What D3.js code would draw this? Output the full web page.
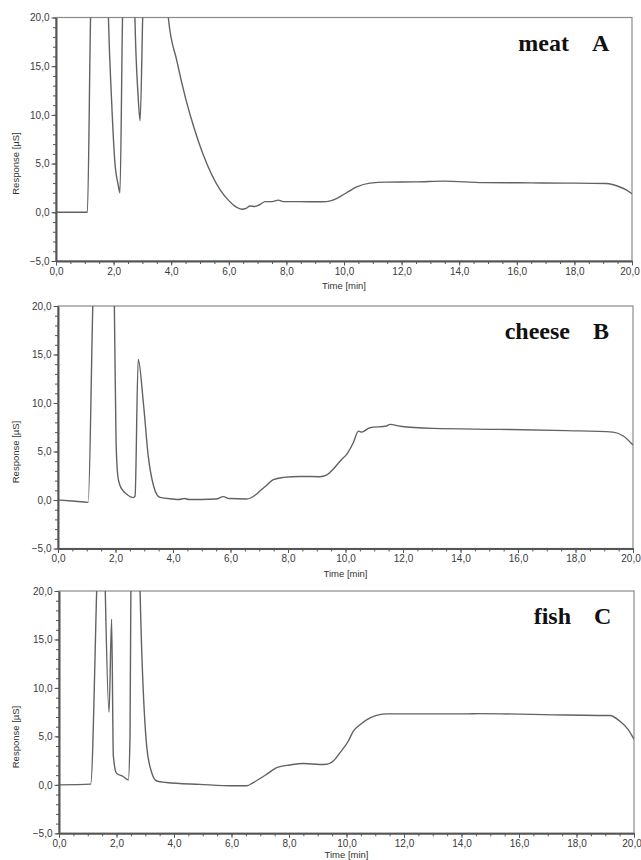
<!DOCTYPE html>
<html lang="en">
<head>
<meta charset="UTF-8">
<title>Chromatograms</title>
<script src="https://d3js.org/d3.v7.min.js"></script>
<style>
html, body { margin: 0; padding: 0; background: #fff; }
svg { display: block; }
.tick text { font-family: 'Liberation Sans', Arial, sans-serif; font-size: 10px; fill: #3a3a3a; }
.axis path, .axis line { stroke: #555; }
.axis-title { font-family: 'Liberation Sans', Arial, sans-serif; font-size: 9.5px; fill: #333; }
.sample { font-family: 'Liberation Serif', 'Times New Roman', serif; font-weight: bold; font-size: 24px; fill: #111; }
.trace { fill: none; stroke: #626262; stroke-width: 1.4; }
</style>
</head>
<body>
<svg id="canvas"></svg>
<script>
// ---- data ----
let sampleNames = ['meat', 'cheese', 'fish']
let sampleLetters = ['A', 'B', 'C']

let meatTime = [0, 1.09, 1.2, 1.3, 1.75, 1.82, 1.93, 2.04, 2.16, 2.22, 2.31, 2.4, 2.68, 2.74, 2.85, 2.92, 3.01, 3.1, 3.85, 3.9, 4.2, 4.5, 4.8, 5.1, 5.4, 5.7, 6.0, 6.25, 6.45, 6.6, 6.74, 6.9, 7.08, 7.26, 7.5, 7.72, 7.89, 8.5, 9.0, 9.4, 9.74, 9.97, 10.2, 10.44, 10.9, 11.48, 12.5, 13.45, 14.83, 16.5, 17.73, 19.1, 19.58, 19.8, 20]
let meatResp = [0, 0, 20, 30, 30, 20, 11.5, 5.3, 2.8, 2.0, 20, 30, 30, 20, 12, 9.4, 20, 30, 30, 20, 15.5, 11.7, 8.6, 6.0, 3.9, 2.3, 1.2, 0.55, 0.31, 0.4, 0.65, 0.6, 0.8, 1.1, 1.1, 1.25, 1.1, 1.1, 1.08, 1.1, 1.4, 1.8, 2.2, 2.6, 3.0, 3.1, 3.12, 3.2, 3.05, 3.02, 3.0, 2.95, 2.6, 2.3, 1.9]

let cheeseTime = [0, 0.5, 1.05, 1.21, 1.3, 1.9, 1.96, 2.02, 2.08, 2.16, 2.25, 2.39, 2.62, 2.68, 2.79, 2.97, 3.14, 3.32, 3.45, 3.55, 4.0, 4.2, 4.4, 4.55, 5.0, 5.5, 5.75, 5.95, 6.56, 6.9, 7.03, 7.25, 7.49, 7.84, 8.42, 9.11, 9.34, 9.57, 9.87, 10.04, 10.27, 10.45, 10.56, 10.85, 11.43, 11.55, 11.9, 13.05, 15.37, 17.69, 19.3, 19.66, 20]
let cheeseResp = [0, -0.1, -0.24, 20, 30, 30, 20, 6, 2.5, 1.47, 1.0, 0.6, 0.25, 0.4, 14.5, 10.0, 4.5, 1.5, 0.5, 0.27, 0.1, 0.05, 0.15, 0.05, 0.05, 0.1, 0.35, 0.15, 0.1, 0.6, 0.95, 1.5, 2.1, 2.33, 2.43, 2.4, 2.56, 3.18, 4.2, 4.7, 5.9, 7.1, 7.0, 7.45, 7.63, 7.8, 7.6, 7.38, 7.28, 7.15, 7.0, 6.6, 5.67]

let fishTime = [0, 1.1, 1.31, 1.4, 1.55, 1.61, 1.74, 1.83, 1.89, 2.0, 2.23, 2.41, 2.47, 2.5, 2.6, 2.75, 2.82, 3.05, 3.22, 3.4, 3.74, 4.9, 6.07, 6.53, 6.76, 7.23, 7.57, 8.03, 8.5, 9.08, 9.31, 9.54, 9.77, 10.06, 10.24, 10.47, 10.82, 11.4, 14.18, 14.64, 17.66, 19.17, 19.51, 19.8, 20]
let fishResp = [0, 0.07, 20, 30, 30, 20, 7.5, 17.1, 3.0, 1.2, 0.86, 0.5, 5, 20, 30, 30, 20, 4.0, 1.3, 0.4, 0.24, 0.05, -0.1, -0.1, 0.24, 1.1, 1.78, 2.05, 2.2, 2.1, 2.12, 2.46, 3.3, 4.5, 5.54, 6.2, 6.9, 7.32, 7.32, 7.35, 7.2, 7.15, 6.56, 5.7, 4.7]

let xTicks = [0, 2, 4, 6, 8, 10, 12, 14, 16, 18, 20]
let xMinorTicks = d3.range(0, 20.01, 0.5)
let yTicks = [-5, 0, 5, 10, 15, 20]
let yMinorTicks = d3.range(-5, 20.01, 1)

let times = [meatTime, cheeseTime, fishTime]
let responses = [meatResp, cheeseResp, fishResp]

// ---- layout ----
let width = 641
let height = 860
let panelTop = [17.5, 306, 591]
let panelBottom = [261, 548.5, 833.3]
let panelLeft = [56, 58, 59]
let panelRight = [632, 633, 634]

let svg = d3.select('#canvas').attr('width', width).attr('height', height)

let fmt = d => d3.format('.1f')(d).replace('.', ',')

let drawPanel = (i) => {
    let x0 = panelLeft[i], x1 = panelRight[i]
    let y0 = panelTop[i], y1 = panelBottom[i]

    let xScale = d3.scaleLinear().domain([0, 20]).range([x0, x1])
    let yScale = d3.scaleLinear().domain([-5, 20]).range([y1, y0])

    let g = svg.append('g')

    g.append('clipPath')
        .attr('id', 'clip' + i)
        .append('rect')
        .attr('x', x0).attr('y', y0)
        .attr('width', x1 - x0).attr('height', y1 - y0)

    // frame
    g.append('rect')
        .attr('x', x0).attr('y', y0)
        .attr('width', x1 - x0).attr('height', y1 - y0)
        .attr('fill', 'none')
        .attr('stroke', '#8a8a8a')
        .attr('stroke-width', 1.2)

    let pts = times[i].map((t, k) => [t, responses[i][k]])
    let line = d3.line()
        .x(d => xScale(d[0]))
        .y(d => yScale(d[1]))
        .curve(d3.curveMonotoneX)

    g.append('path')
        .datum(pts)
        .attr('class', 'trace')
        .attr('clip-path', 'url(#clip' + i + ')')
        .attr('d', line)

    // axes
    g.append('g')
        .attr('class', 'axis')
        .attr('transform', 'translate(0,' + y1 + ')')
        .call(d3.axisBottom(xScale).tickValues(xMinorTicks).tickSize(3).tickFormat(''))
        .call(a => a.select('.domain').remove())

    g.append('g')
        .attr('class', 'axis')
        .attr('transform', 'translate(0,' + y1 + ')')
        .call(d3.axisBottom(xScale).tickValues(xTicks).tickSize(4.5).tickSizeOuter(0).tickPadding(2).tickFormat(fmt))
        .call(a => a.select('.domain').attr('stroke-width', 2))
        .call(a => a.selectAll('.tick text').filter(d => d === 20).attr('dx', -2.5))

    g.append('g')
        .attr('class', 'axis')
        .attr('transform', 'translate(' + x0 + ',0)')
        .call(d3.axisLeft(yScale).tickValues(yMinorTicks).tickSize(3).tickFormat(''))
        .call(a => a.select('.domain').remove())

    g.append('g')
        .attr('class', 'axis')
        .attr('transform', 'translate(' + x0 + ',0)')
        .call(d3.axisLeft(yScale).tickValues(yTicks).tickSize(4.5).tickSizeOuter(0).tickPadding(2).tickFormat(fmt))
        .call(a => a.select('.domain').attr('stroke-width', 2))

    // axis titles
    g.append('text')
        .attr('class', 'axis-title')
        .attr('x', (x0 + x1) / 2)
        .attr('y', Math.min(y1 + 28, height - 2.5))
        .attr('text-anchor', 'middle')
        .text('Time [min]')

    g.append('text')
        .attr('class', 'axis-title')
        .attr('transform', 'translate(19,' + (y0 + 146) + ') rotate(-90)')
        .attr('text-anchor', 'middle')
        .text('Response [µS]')

    // sample label
    g.append('text')
        .attr('class', 'sample')
        .attr('x', x1 - 63)
        .attr('y', y0 + 33)
        .attr('text-anchor', 'end')
        .text(sampleNames[i])

    g.append('text')
        .attr('class', 'sample')
        .attr('x', x1 - 40)
        .attr('y', y0 + 33)
        .text(sampleLetters[i])
}

sampleNames.forEach((d, i) => drawPanel(i))
</script>
</body>
</html>
